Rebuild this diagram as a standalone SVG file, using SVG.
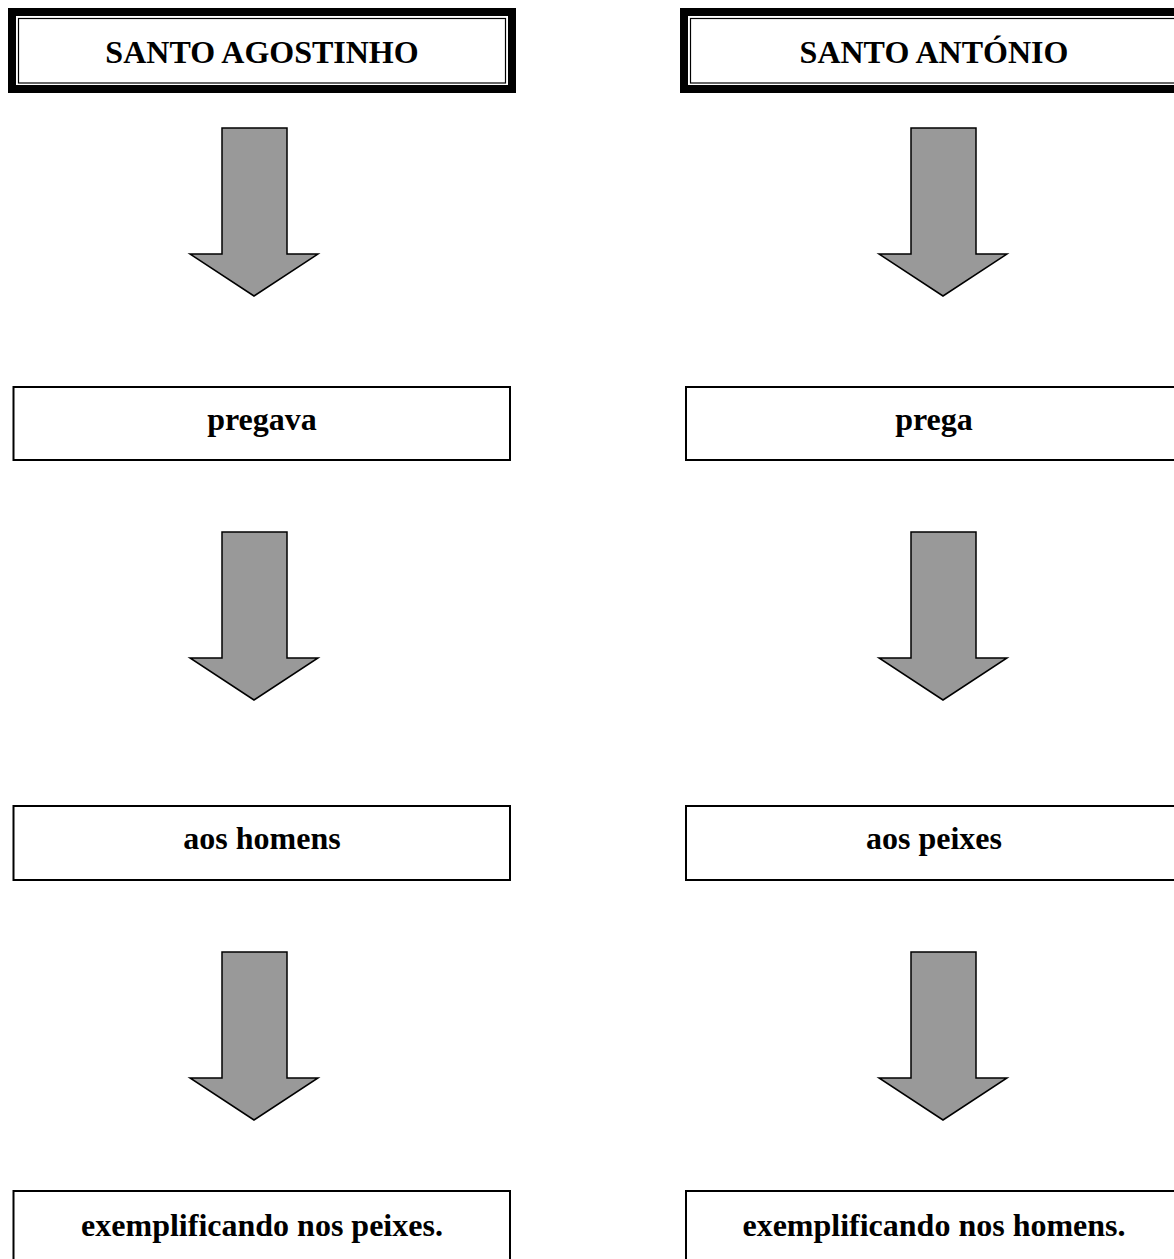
<svg xmlns="http://www.w3.org/2000/svg" width="1174" height="1259" viewBox="0 0 1174 1259">
<style>
.outer{fill:none;stroke:#000;stroke-width:8}
.inner{fill:none;stroke:#000;stroke-width:1.2}
.box{fill:#fff;stroke:#000;stroke-width:2}
.arrow{fill:#999;stroke:#000;stroke-width:1.5;stroke-linejoin:miter}
.title{font-family:"Liberation Serif","Times New Roman",serif;font-weight:bold;font-size:32px;text-anchor:middle}
.lbl{font-family:"Liberation Serif","Times New Roman",serif;font-weight:bold;font-size:32px;text-anchor:middle}
</style>
<defs>
<path id="arr" d="M-32,0 H33 V126 H64 L0,168 L-64,126 H-32 Z"/>
</defs>
<rect width="1174" height="1259" fill="#fff"/>
<g id="title-left">
<rect class="outer" x="12" y="12" width="500" height="77"/>
<rect class="inner" x="18.5" y="18.5" width="487" height="64.5"/>
<text class="title" x="262" y="63">SANTO AGOSTINHO</text>
</g>
<g id="title-right">
<rect class="outer" x="684" y="12" width="520" height="77"/>
<rect class="inner" x="690.5" y="18.5" width="520" height="64.5"/>
<text class="title" x="934" y="63">SANTO ANTÓNIO</text>
</g>
<g id="connectors">
<use href="#arr" class="arrow" x="254" y="128"/>
<use href="#arr" class="arrow" x="254" y="532"/>
<use href="#arr" class="arrow" x="254" y="952"/>
<use href="#arr" class="arrow" x="943" y="128"/>
<use href="#arr" class="arrow" x="943" y="532"/>
<use href="#arr" class="arrow" x="943" y="952"/>
</g>
<g id="box-pregava">
<rect class="box" x="13.5" y="387" width="496.5" height="73"/>
<text class="lbl" x="262" y="430">pregava</text>
</g>
<g id="box-prega">
<rect class="box" x="686" y="387" width="520" height="73"/>
<text class="lbl" x="934" y="430">prega</text>
</g>
<g id="box-aos-homens">
<rect class="box" x="13.5" y="806" width="496.5" height="74"/>
<text class="lbl" x="262" y="849">aos homens</text>
</g>
<g id="box-aos-peixes">
<rect class="box" x="686" y="806" width="520" height="74"/>
<text class="lbl" x="934" y="849">aos peixes</text>
</g>
<g id="box-exemplificando-peixes">
<rect class="box" x="13.5" y="1191" width="496.5" height="90"/>
<text class="lbl" x="262" y="1236">exemplificando nos peixes.</text>
</g>
<g id="box-exemplificando-homens">
<rect class="box" x="686" y="1191" width="520" height="90"/>
<text class="lbl" x="934" y="1236">exemplificando nos homens.</text>
</g>
</svg>
